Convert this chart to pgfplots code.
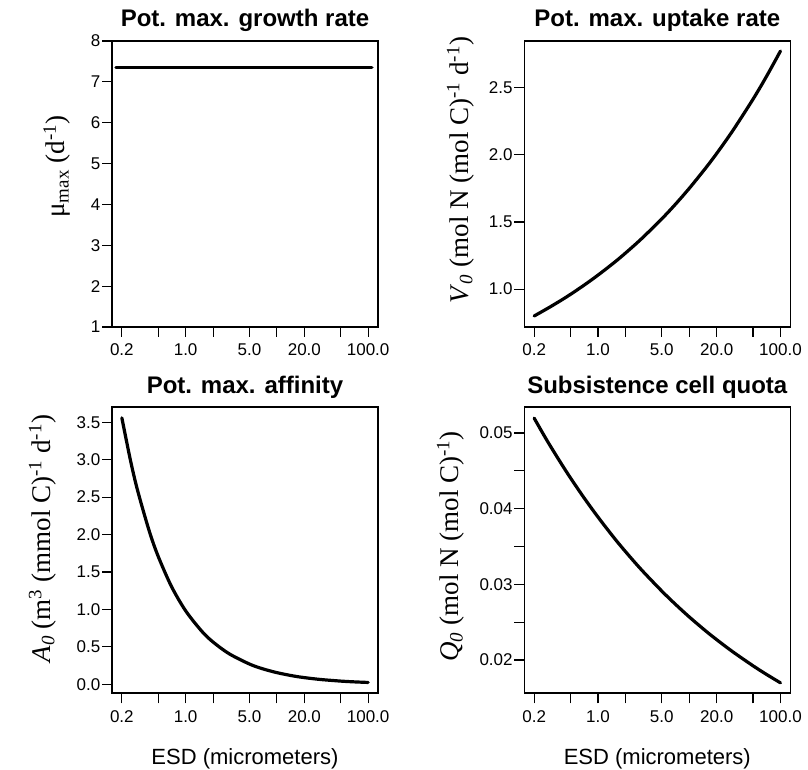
\documentclass[border=0pt]{standalone}
\usepackage{fontspec}
\setmainfont{Liberation Sans}
\newfontfamily\serif{Liberation Serif}
\usepackage{pgfplots}
\pgfplotsset{compat=1.18}

\pgfplotsset{every axis/.append style={
    scale only axis,
    width=266pt, height=286pt,
    tick pos=left,
    tick align=outside,
    major tick length=10pt,
    tick style={black, line width=1.2pt},
    axis line style={line width=1.6pt},
    scaled y ticks=false,
    ticklabel style={font=\fontsize{17}{19}\selectfont},
    xticklabel style={anchor=base, inner sep=0pt, yshift=-19pt},
    yticklabel style={anchor=east, inner sep=0pt, xshift=-1.5pt},
    title style={font=\bfseries\fontsize{24}{28}\selectfont, anchor=base, at={(0.5,1)}, yshift=8pt},
    xlabel style={font=\fontsize{22}{26}\selectfont, at={(axis description cs:0.5,-0.229)}, anchor=center},
}}

\begin{document}
\begin{tikzpicture}
\useasboundingbox (0pt,0pt) rectangle (808pt,770pt);

% potential maximum growth rate (constant across sizes)
\begin{axis}[xmode=log, xmin=0.156, xmax=128.2,
    xtick={0.2,0.5,1,2,5,10,20,50,100},
    xticklabels={0.2,,1.0,,5.0,,20.0,,100.0},
    at={(112pt,443pt)}, anchor=south west,
    title={Pot. max. growth rate},
    ymin=1, ymax=8,
    ytick={1,2,3,4,5,6,7,8},
    yticklabels={1,2,3,4,5,6,7,8},
    ylabel={\serif μ\textsubscript{max} (d\textsuperscript{-1})},
    ylabel style={at={(axis description cs:-0.207,0.561)}, anchor=center, font=\fontsize{27}{30}\selectfont}]
\addplot[black, line width=3.2pt, line cap=round, mark=none] coordinates {(0.172,7.35) (110,7.35)};
\end{axis}

% potential maximum uptake rate
\begin{axis}[xmode=log, xmin=0.156, xmax=128.2,
    xtick={0.2,0.5,1,2,5,10,20,50,100},
    xticklabels={0.2,,1.0,,5.0,,20.0,,100.0},
    at={(524.3pt,443pt)}, anchor=south west,
    title={Pot. max. uptake rate},
    ymin=0.718, ymax=2.848,
    ytick={1,1.5,2,2.5},
    yticklabels={1.0,1.5,2.0,2.5},
    ylabel={\serif\textit{V}\textsubscript{\textit{0}} (mol N (mol C)\textsuperscript{-1} d\textsuperscript{-1})},
    ylabel style={at={(axis description cs:-0.2395,0.549)}, anchor=center, font=\fontsize{27}{30}\selectfont}]
\addplot[black, line width=3.2pt, line cap=round, mark=none, smooth] coordinates {
  (0.2,0.800) (0.25,0.837) (0.3,0.868) (0.4,0.919) (0.5,0.961) (0.7,1.028)
  (1,1.104) (1.5,1.197) (2,1.268) (3,1.375) (5,1.523) (7,1.629)
  (10,1.750) (15,1.898) (20,2.010) (30,2.180) (50,2.414) (70,2.582) (100,2.773)};
\end{axis}

% potential maximum affinity
\begin{axis}[xmode=log, xmin=0.156, xmax=128.2,
    xtick={0.2,0.5,1,2,5,10,20,50,100},
    xticklabels={0.2,,1.0,,5.0,,20.0,,100.0},
    at={(112pt,76.7pt)}, anchor=south west,
    title={Pot. max. affinity},
    xlabel={ESD (micrometers)},
    ymin=-0.12, ymax=3.70,
    ytick={0,0.5,1,1.5,2,2.5,3,3.5},
    yticklabels={0.0,0.5,1.0,1.5,2.0,2.5,3.0,3.5},
    ylabel={\serif\textit{A}\textsubscript{\textit{0}} (m\textsuperscript{3} (mmol C)\textsuperscript{-1} d\textsuperscript{-1})},
    ylabel style={at={(axis description cs:-0.261,0.541)}, anchor=center, font=\fontsize{27}{30}\selectfont}]
\addplot[black, line width=3.2pt, line cap=round, mark=none, smooth] coordinates {
  (0.2,3.559) (0.25,2.977) (0.3,2.573) (0.4,2.044) (0.5,1.710) (0.7,1.306)
  (1,0.982) (1.5,0.710) (2,0.564) (3,0.408) (5,0.271) (7,0.207)
  (10,0.156) (15,0.1125) (20,0.0894) (30,0.0646) (50,0.0429) (70,0.0328) (100,0.0247)};
\end{axis}

% subsistence cell quota
\begin{axis}[xmode=log, xmin=0.156, xmax=128.2,
    xtick={0.2,0.5,1,2,5,10,20,50,100},
    xticklabels={0.2,,1.0,,5.0,,20.0,,100.0},
    at={(524.3pt,76.7pt)}, anchor=south west,
    title={Subsistence cell quota},
    xlabel={ESD (micrometers)},
    ymin=0.0156, ymax=0.0534,
    ytick={0.02,0.025,0.03,0.035,0.04,0.045,0.05},
    yticklabels={0.02,,0.03,,0.04,,0.05},
    ylabel={\serif\textit{Q}\textsubscript{\textit{0}} (mol N (mol C)\textsuperscript{-1})},
    ylabel style={at={(axis description cs:-0.277,0.513)}, anchor=center, font=\fontsize{27}{30}\selectfont}]
\addplot[black, line width=3.2pt, line cap=round, mark=none, smooth] coordinates {
  (0.2,0.05197) (0.25,0.04992) (0.3,0.04831) (0.4,0.04588) (0.5,0.04407) (0.7,0.04148)
  (1,0.03890) (1.5,0.03616) (2,0.03434) (3,0.03192) (5,0.02912) (7,0.02741)
  (10,0.02570) (15,0.02389) (20,0.02269) (30,0.02109) (50,0.01924) (70,0.01811) (100,0.01698)};
\end{axis}
\end{tikzpicture}
\end{document}
